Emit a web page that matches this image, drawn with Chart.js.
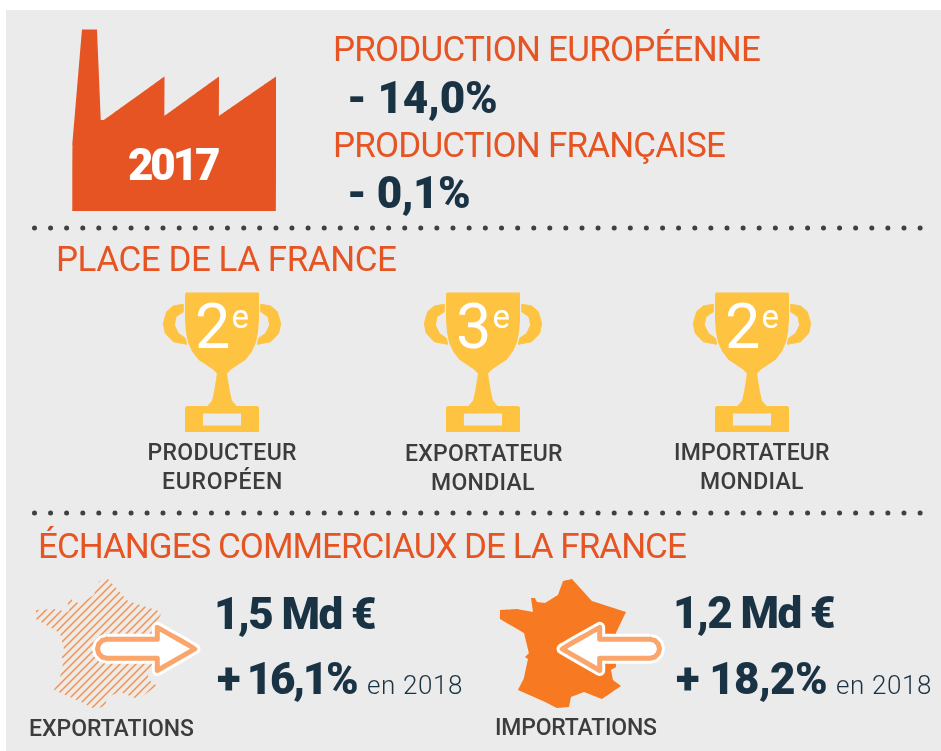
<!DOCTYPE html>
<html lang="fr">
<head>
<meta charset="utf-8">
<title>Production et échanges 2017</title>
<style>
  html, body { margin: 0; padding: 0; background: #fff; }
  canvas { display: block; }
</style>
<script src="https://cdn.jsdelivr.net/npm/chart.js@4/dist/chart.umd.js"></script>
</head>
<body>
<canvas id="chart" width="941" height="751"></canvas>
<script>
// values
const year = 2017;
const productionLabels = ['PRODUCTION EUROPÉENNE', 'PRODUCTION FRANÇAISE'];
const productionChanges = [-14.0, -0.1];
const rankTitle = 'PLACE DE LA FRANCE';
const ranks = [2, 3, 2];
const rankLabels = [['PRODUCTEUR', 'EUROPÉEN'], ['EXPORTATEUR', 'MONDIAL'], ['IMPORTATEUR', 'MONDIAL']];
const tradeTitle = 'ÉCHANGES COMMERCIAUX DE LA FRANCE';
const tradeLabels = ['EXPORTATIONS', 'IMPORTATIONS'];
const tradeAmounts = [1.5, 1.2];
const tradeChanges = [16.1, 18.2];
const compareYear = 2018;

const ORANGE = '#e55422';
const NAVY = '#1a3344';
const GREY = '#3c3c3c';
const PANEL = '#ebebeb';
const GOLD = '#fec340';
const MAP = '#f77a22';
const RING = '#f9a56b';

// pictogram outlines, in page pixels
const pts = (list) => list.map(([x, y]) => ({ x, y }));
const factory = [[72.5, 211], [72.5, 145], [82, 29.5], [97, 29.5], [101, 120], [104, 120], [164.5, 76.5],
    [164.5, 116], [219, 76.5], [219, 116], [276, 76.5], [276, 211], [72.5, 211]];
// trophy drawn around x = 0
const cup = [[-36, 293.5], [36, 293.5], [36, 320], [35, 332], [33, 342], [29, 351], [23, 359], [8, 369],
    [4, 373], [5, 380], [7, 392], [9, 401], [14, 407], [35, 407], [36, 408], [36, 431], [-36, 431], [-36, 408],
    [-35, 407], [-14, 407], [-9, 401], [-7, 392], [-5, 380], [-4, 373], [-8, 369], [-23, 359], [-29, 351],
    [-33, 342], [-35, 332], [-36, 320], [-36, 293.5]];
const handleLeft = [[-38.7, 304.3], [-48.7, 306], [-55.3, 311.7], [-58.7, 323.3], [-56.7, 333.3], [-48.7, 341.7],
    [-35.3, 344.3], [-36.7, 338.3], [-43.7, 333.3], [-47.7, 325], [-46, 316.7], [-38.7, 311.7], [-38.7, 304.3]];
const handleRight = handleLeft.map(([x, y]) => [-x, y]);
const plate = [[-19, 413.5], [19, 413.5], [19, 425.5], [-19, 425.5], [-19, 413.5]];
const trophyCenters = [222, 483, 752];
// map outline, import side; the export map is the same shape moved left
const france = [[563, 581], [572, 579], [592, 601], [626, 612], [616, 633], [616, 667], [611, 670], [613, 680],
    [621, 686], [602, 699], [584, 692], [571, 697], [569, 707], [557, 708], [543, 701], [518, 690], [524, 678],
    [528, 659], [525, 657], [529, 653], [524, 633], [500, 619], [500, 610], [517, 609], [533, 612], [531, 598],
    [535, 598], [537, 602], [545, 603], [558, 595], [563, 581]];
const exportMapShift = -464;
const exportArrow = [[107, 639.2], [157.3, 639.2], [157.3, 627.3], [195, 648.8], [157.3, 670.5], [157.3, 658.3],
    [107, 658.3], [102.2, 657], [98.8, 653.5], [97.5, 648.8], [98.8, 644], [102.2, 640.5], [107, 639.2]];
const importArrow = exportArrow.map(([x, y]) => [757 - x, y]);

// hatch used for the export map
function hatchPattern() {
    const tile = document.createElement('canvas');
    tile.width = 8;
    tile.height = 8;
    const c = tile.getContext('2d');
    c.strokeStyle = '#f6914f';
    c.lineWidth = 1.5;
    c.beginPath();
    c.moveTo(-2, 10);
    c.lineTo(10, -2);
    c.moveTo(-2, 2);
    c.lineTo(2, -2);
    c.moveTo(6, 10);
    c.lineTo(10, 6);
    c.stroke();
    return c.createPattern(tile, 'repeat');
}

const shape = (label, list, fillColor, borderColor = fillColor, borderWidth = 0) => ({
    label, data: pts(list), fill: 'shape', backgroundColor: fillColor, borderColor, borderWidth,
});
const outline = (label, list, color, borderWidth) => ({
    label, data: pts(list), fill: false, borderColor: color, borderWidth, borderCapStyle: 'round',
});
const dotRow = (label, y) => ({
    label, data: [{ x: 34.5, y }, { x: 925, y }], fill: false, borderColor: '#404040', borderWidth: 5,
    borderDash: [0, 16.1], borderCapStyle: 'round',
});

const datasets = [
    shape('usine', factory, ORANGE),
    dotRow('séparateur 1', 228),
    dotRow('séparateur 2', 513),
];
trophyCenters.forEach((cx) => {
    const at = (list) => list.map(([x, y]) => [x + cx, y]);
    datasets.push(shape('coupe', at(cup), GOLD, GOLD, 2));
    datasets.push(shape('anse', at(handleLeft), GOLD, GOLD, 1));
    datasets.push(shape('anse', at(handleRight), GOLD, GOLD, 1));
    datasets.push(shape('plaque', at(plate), PANEL));
});
datasets.push(shape('carte export', france.map(([x, y]) => [x + exportMapShift, y]), hatchPattern()));
datasets.push(shape('carte import', france, MAP));
[exportArrow, importArrow].forEach((arrow) => {
    datasets.push(shape('flèche', arrow, '#ffffff', '#ffffff', 11));
    datasets.push(outline('flèche anneau', arrow, RING, 5));
});
datasets.forEach((d, i) => { d.order = -i; });

const fr = (v) => Math.abs(v).toFixed(1).replace('.', ',');
const signed = (v) => (v < 0 ? '- ' : '+ ') + fr(v) + '%';

// [text, left, right, baseline, font, colour]
const F_TITLE = '400 35px Roboto';
const F_BIG = '900 44px Roboto';
const F_LABEL = '500 23px Roboto';
const F_SMALL = '300 26px Roboto';
const texts = [
    [String(year), 129, 219, 180, F_BIG, '#ffffff'],
    [productionLabels[0], 335, 760, 61, F_TITLE, ORANGE],
    [signed(productionChanges[0]), 350, 496, 113, F_BIG, NAVY],
    [productionLabels[1], 335, 725, 157, F_TITLE, ORANGE],
    [signed(productionChanges[1]), 350, 469, 208, F_BIG, NAVY],
    [rankTitle, 58, 396, 271, F_TITLE, ORANGE],
    [rankLabels[0][0], 148.5, 296, 460, F_LABEL, GREY],
    [rankLabels[0][1], 163, 281, 488.5, F_LABEL, GREY],
    [rankLabels[1][0], 406, 562, 461, F_LABEL, GREY],
    [rankLabels[1][1], 432, 534, 489.5, F_LABEL, GREY],
    [rankLabels[2][0], 675, 829, 460, F_LABEL, GREY],
    [rankLabels[2][1], 701, 803, 489, F_LABEL, GREY],
    [tradeTitle, 40, 686, 558, F_TITLE, ORANGE],
    [fr(tradeAmounts[0]) + ' Md €', 217, 375, 629, F_BIG, NAVY],
    [signed(tradeChanges[0]), 217, 357, 694, F_BIG, NAVY],
    ['en ' + compareYear, 368, 462, 694, F_SMALL, NAVY],
    [fr(tradeAmounts[1]) + ' Md €', 676, 834, 628, F_BIG, NAVY],
    [signed(tradeChanges[1]), 676, 826, 694, F_BIG, NAVY],
    ['en ' + compareYear, 837, 931, 694, F_SMALL, NAVY],
    [tradeLabels[0], 30, 194, 735.5, F_LABEL, GREY],
    [tradeLabels[1], 496, 657, 735, F_LABEL, GREY],
];
trophyCenters.forEach((cx, i) => {
    texts.push([String(ranks[i]), cx - 25, cx + 7, 348, '400 63px Roboto', '#ffffff']);
    texts.push(['e', cx + 10.5, cx + 26, 328, '400 33px Roboto', '#ffffff']);
});

const panelPlugin = {
    id: 'panel',
    beforeDraw(chart) {
        const { ctx, scales: { x, y } } = chart;
        ctx.save();
        ctx.fillStyle = PANEL;
        ctx.fillRect(x.getPixelForValue(6), y.getPixelForValue(10), x.getPixelForValue(941) - x.getPixelForValue(6),
            y.getPixelForValue(751) - y.getPixelForValue(10));
        ctx.restore();
    },
};

const textPlugin = {
    id: 'texts',
    afterDatasetsDraw(chart) {
        const { ctx, scales: { x, y } } = chart;
        ctx.save();
        ctx.textBaseline = 'alphabetic';
        ctx.textAlign = 'left';
        texts.forEach(([text, left, right, base, font, color]) => {
            ctx.font = font;
            ctx.fillStyle = color;
            ctx.letterSpacing = '0px';
            const m = ctx.measureText(text);
            // fit the inked width between left and right
            const ink = m.actualBoundingBoxLeft + m.actualBoundingBoxRight;
            const gap = text.length > 1 ? (right - left - ink) / (text.length - 1) : 0;
            ctx.letterSpacing = gap.toFixed(2) + 'px';
            ctx.fillText(text, x.getPixelForValue(left + m.actualBoundingBoxLeft), y.getPixelForValue(base));
        });
        ctx.restore();
    },
};

new Chart(document.getElementById('chart'), {
    type: 'scatter',
    data: { datasets },
    plugins: [panelPlugin, textPlugin],
    options: {
        responsive: false,
        animation: false,
        clip: false,
        layout: { padding: 0 },
        showLine: true,
        elements: {
            point: { radius: 0, hoverRadius: 0 },
            line: { tension: 0.001, capBezierPoints: false, borderJoinStyle: 'round' },
        },
        plugins: { legend: { display: false }, tooltip: { enabled: false }, title: { display: false } },
        scales: {
            x: { type: 'linear', min: 0, max: 941, display: false },
            y: { type: 'linear', min: 0, max: 751, reverse: true, display: false },
        },
    },
});
</script>
</body>
</html>
